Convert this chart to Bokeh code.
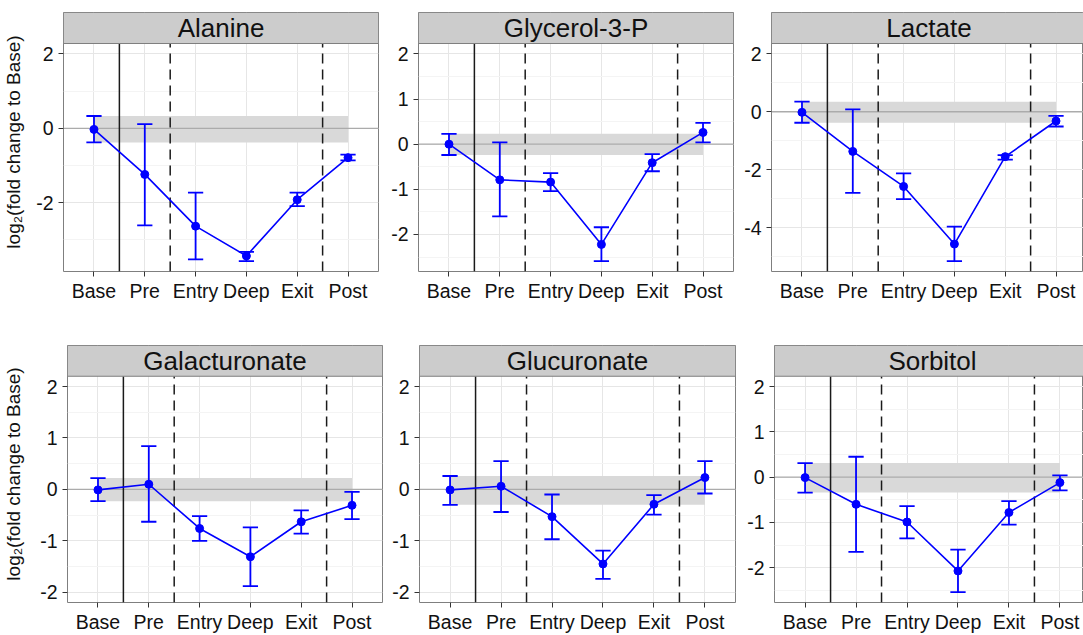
from bokeh.plotting import figure
from bokeh.layouts import column, row
from bokeh.models import Range1d, FixedTicker
from bokeh.embed import file_html
from bokeh.resources import INLINE
from bokeh.core.properties import value

# ---- data -------------------------------------------------------------
phases = ["Base", "Pre", "Entry", "Deep", "Exit", "Post"]

# phase boundaries drawn as vertical rules: (left phase, right phase, dash)
boundaries = [("Base", "Pre", "solid"), ("Pre", "Entry", "dashed"), ("Exit", "Post", "dashed")]

metabolites = ["Alanine", "Glycerol-3-P", "Lactate", "Galacturonate", "Glucuronate", "Sorbitol"]

# mean log2 fold change to Base, with error-bar ends
alanine_mean = [-0.03, -1.24, -2.63, -3.43, -1.92, -0.79]
alanine_lo = [-0.38, -2.61, -3.52, -3.57, -2.09, -0.86]
alanine_hi = [0.33, 0.11, -1.73, -3.32, -1.73, -0.71]

glycerol3p_mean = [0.00, -0.79, -0.84, -2.22, -0.41, 0.26]
glycerol3p_lo = [-0.24, -1.60, -1.04, -2.59, -0.60, 0.04]
glycerol3p_hi = [0.23, 0.04, -0.64, -1.84, -0.22, 0.47]

lactate_mean = [-0.02, -1.37, -2.58, -4.57, -1.55, -0.32]
lactate_lo = [-0.38, -2.80, -3.02, -5.16, -1.65, -0.51]
lactate_hi = [0.35, 0.08, -2.13, -3.97, -1.50, -0.14]

galacturonate_mean = [-0.01, 0.10, -0.76, -1.31, -0.63, -0.31]
galacturonate_lo = [-0.23, -0.63, -1.00, -1.88, -0.86, -0.58]
galacturonate_hi = [0.22, 0.84, -0.52, -0.74, -0.41, -0.05]

glucuronate_mean = [-0.01, 0.06, -0.53, -1.45, -0.29, 0.23]
glucuronate_lo = [-0.30, -0.44, -0.97, -1.74, -0.49, -0.08]
glucuronate_hi = [0.26, 0.55, -0.10, -1.19, -0.11, 0.55]

sorbitol_mean = [-0.01, -0.60, -0.99, -2.07, -0.78, -0.12]
sorbitol_lo = [-0.34, -1.65, -1.35, -2.54, -1.05, -0.29]
sorbitol_hi = [0.31, 0.45, -0.64, -1.60, -0.53, 0.04]

# y-axis breaks per panel
alanine_breaks = [-2, 0, 2]
glycerol3p_breaks = [-2, -1, 0, 1, 2]
lactate_breaks = [-4, -2, 0, 2]
galacturonate_breaks = [-2, -1, 0, 1, 2]
glucuronate_breaks = [-2, -1, 0, 1, 2]
sorbitol_breaks = [-2, -1, 0, 1, 2]

# ---- styling ----------------------------------------------------------
FONT = "Liberation Sans"
BLUE = "#0000FF"
BORDER = "#7F7F7F"
STRIP_FILL = "#CCCCCC"
BAND_FILL = "#D9D9D9"
ZERO_LINE = "#ABABAB"
GRID_MAJOR = "#E6E6E6"
GRID_MINOR = "#F4F4F4"
RULE = "#1A1A1A"
TICK_SIZE = "19.5px"

STRIP_PX = 31
PANEL_PX = 228
YLABEL = "log\u2082(fold change to Base)"

xs = [i + 1 for i in range(len(phases))]
pos = {name: i + 1 for i, name in enumerate(phases)}


def panel(name, mean, lo, hi, breaks, left, frame_w, right, top, bottom,
          ylabel=False, ylabel_standoff=6, clip_px=0):
    # ggplot-like scales: discrete x padded by 0.6, continuous y covering
    # [-2, 2] plus data, expanded by 5 %
    x0, x1 = 0.4, len(phases) + 0.6
    x_end = x1 - clip_px * (x1 - x0) / (frame_w + clip_px)
    ymin = min(-2, min(lo))
    ymax = max(2, max(hi))
    pad = 0.05 * (ymax - ymin)
    ylo, yhi = ymin - pad, ymax + pad
    ytop = yhi + (yhi - ylo) * STRIP_PX / PANEL_PX

    step = breaks[1] - breaks[0]
    minors = [b - step / 2 for b in breaks] + [breaks[-1] + step / 2]
    minors = [m for m in minors if ylo <= m <= yhi]

    p = figure(width=left + frame_w + right, height=top + STRIP_PX + PANEL_PX + bottom,
               x_range=Range1d(x0, x_end), y_range=Range1d(ylo, ytop),
               output_backend="svg", toolbar_location=None, title=None,
               min_border_left=left, min_border_right=right,
               min_border_top=top, min_border_bottom=bottom)
    p.background_fill_color = "white"
    p.border_fill_color = "white"
    p.outline_line_color = BORDER
    p.outline_line_width = 1

    # axes
    p.xaxis.ticker = FixedTicker(ticks=xs)
    p.xaxis.major_label_overrides = {x: n for x, n in zip(xs, phases)}
    p.yaxis.ticker = FixedTicker(ticks=breaks, minor_ticks=minors)
    p.yaxis.major_label_overrides = {b: "%d" % b for b in breaks}
    for ax in (p.xaxis[0], p.yaxis[0]):
        ax.axis_line_color = None
        ax.major_tick_line_color = "#333333"
        ax.major_tick_line_width = 1
        ax.major_tick_in = 0
        ax.major_tick_out = 5
        ax.minor_tick_line_color = None
        ax.major_label_text_font = FONT
        ax.major_label_text_font_size = TICK_SIZE
        ax.major_label_text_color = "#111111"
    p.xaxis.major_label_standoff = 3
    p.yaxis.major_label_standoff = 5
    if ylabel:
        p.yaxis.axis_label = YLABEL
        p.yaxis.axis_label_text_font = FONT
        p.yaxis.axis_label_text_font_size = "19px"
        p.yaxis.axis_label_text_font_style = "normal"
        p.yaxis.axis_label_text_color = "#111111"
        p.yaxis.axis_label_standoff = ylabel_standoff

    # grid
    p.xgrid.ticker = FixedTicker(ticks=xs)
    p.xgrid.grid_line_color = GRID_MAJOR
    p.ygrid.grid_line_color = GRID_MAJOR
    p.ygrid.minor_grid_line_color = GRID_MINOR
    p.xgrid.grid_line_width = 1
    p.ygrid.grid_line_width = 1

    # band spanning the Base error bar, and the zero line
    p.quad(left=[pos["Base"]], right=[pos["Post"]], bottom=[lo[0]], top=[hi[0]],
           fill_color=BAND_FILL, line_color=None)
    p.segment(x0=[x0], y0=[0], x1=[x1], y1=[0], line_color=ZERO_LINE, line_width=1.3)

    # phase rules
    for a, b, dash in boundaries:
        xb = (pos[a] + pos[b]) / 2
        p.segment(x0=[xb], y0=[ylo], x1=[xb], y1=[yhi], line_color=RULE,
                  line_width=1.5, line_dash="10 6" if dash == "dashed" else "solid")

    # error bars
    cap = 0.15
    p.segment(x0=xs, y0=lo, x1=xs, y1=hi, line_color=BLUE, line_width=1.8)
    p.segment(x0=[x - cap for x in xs], y0=lo, x1=[x + cap for x in xs], y1=lo,
              line_color=BLUE, line_width=1.8)
    p.segment(x0=[x - cap for x in xs], y0=hi, x1=[x + cap for x in xs], y1=hi,
              line_color=BLUE, line_width=1.8)

    # mean trajectory
    p.line(xs, mean, line_color=BLUE, line_width=1.6)
    p.scatter(xs, mean, size=8, fill_color=BLUE, line_color=BLUE)

    # facet strip
    p.quad(left=[x0], right=[x1], bottom=[yhi], top=[ytop],
           fill_color=STRIP_FILL, line_color=BORDER, line_width=1)
    p.text(x=[(x0 + x1) / 2], y=[(yhi + ytop) / 2], text=[name],
           text_align="center", text_baseline="middle",
           text_font=value(FONT), text_font_size="26px", text_color="#111111")
    return p


f1 = panel(metabolites[0], alanine_mean, alanine_lo, alanine_hi, alanine_breaks,
           62, 316, 8, 12, 62, ylabel=True, ylabel_standoff=9)
f2 = panel(metabolites[1], glycerol3p_mean, glycerol3p_lo, glycerol3p_hi, glycerol3p_breaks,
           32, 315, 5, 12, 62)
f3 = panel(metabolites[2], lactate_mean, lactate_lo, lactate_hi, lactate_breaks,
           33, 312, 0, 12, 62, clip_px=3)
f4 = panel(metabolites[3], galacturonate_mean, galacturonate_lo, galacturonate_hi,
           galacturonate_breaks, 66, 316, 4, 12, 31, ylabel=True, ylabel_standoff=13)
f5 = panel(metabolites[4], glucuronate_mean, glucuronate_lo, glucuronate_hi, glucuronate_breaks,
           33, 316, 4, 12, 31)
f6 = panel(metabolites[5], sorbitol_mean, sorbitol_lo, sorbitol_hi, sorbitol_breaks,
           35, 309, 0, 12, 31, clip_px=7)

layout = column(row(f1, f2, f3), row(f4, f5, f6))

with open("out.html", "w") as fh:
    fh.write(file_html(layout, INLINE))
